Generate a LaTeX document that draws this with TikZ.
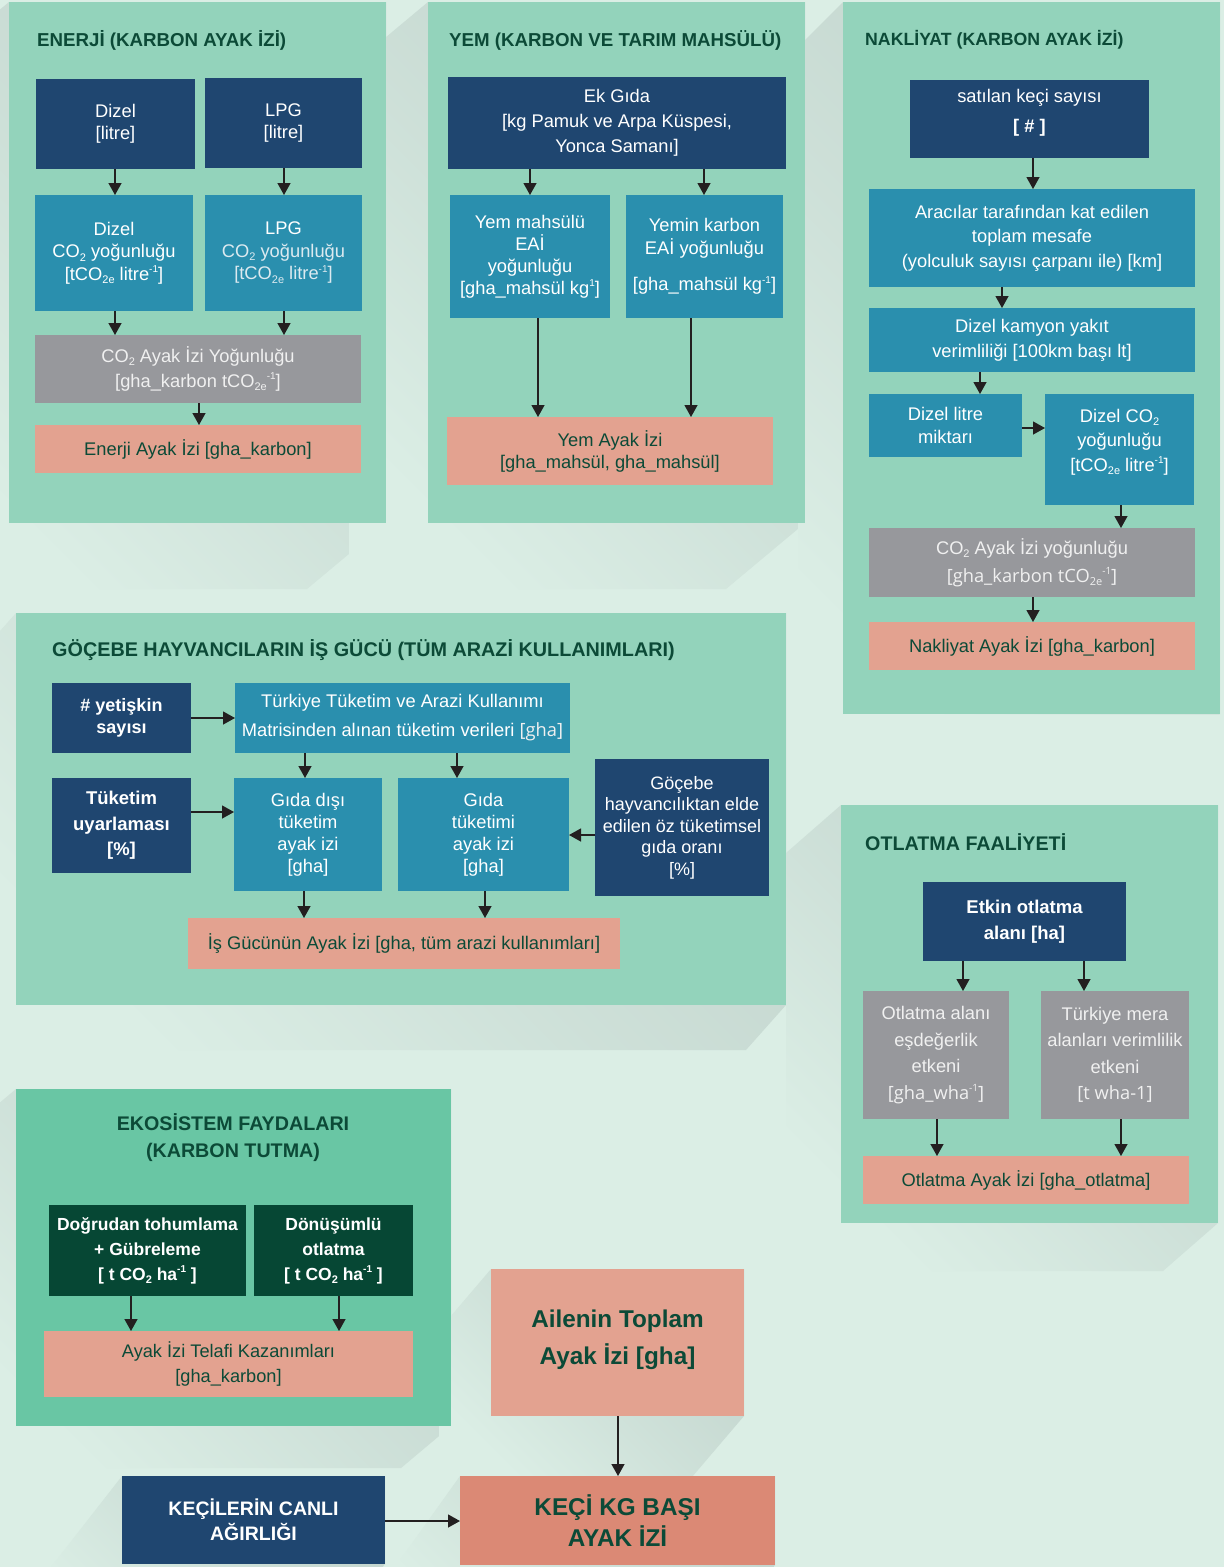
\documentclass[tikz,border=0pt]{standalone}
\usepackage{fontspec}
\setmainfont{Liberation Sans}
\newfontfamily\osans{Open Sans}
\usetikzlibrary{arrows.meta}
\definecolor{bgc}{HTML}{DBEEE5}
\definecolor{shd}{HTML}{C3D5CE}
\definecolor{panelc}{HTML}{93D3BB}
\definecolor{panelb}{HTML}{69C6A4}
\definecolor{dblue}{HTML}{1F4670}
\definecolor{tealc}{HTML}{2A8FAE}
\definecolor{greyc}{HTML}{97989C}
\definecolor{salm}{HTML}{E3A290}
\definecolor{salmd}{HTML}{DB8975}
\definecolor{dgreen}{HTML}{064734}
\definecolor{titlec}{HTML}{0C4A37}
\definecolor{arrc}{HTML}{231F20}
\definecolor{lightc}{HTML}{DCEAF0}
\definecolor{greytxt}{HTML}{F0F0F0}
\newcommand\msup[1]{\raisebox{0.8ex}{\fontsize{10}{10}\selectfont #1}}
\newcommand\msub[1]{\raisebox{-0.35ex}{\fontsize{11}{11}\selectfont #1}}
\newcommand\bx[7]{\node[#1, minimum width={#4-#2}, minimum height={#5-#3}] (#6) at ({(#2+#4)/2},{(#3+#5)/2}) {#7};}
\newcommand\vconn[3]{\draw[arr] (#1.south -| #3,0) -- (#2.north -| #3,0);}
\newcommand\hconnr[3]{\draw[arr] (#1.east |- 0,#3) -- (#2.west |- 0,#3);}
\newcommand\hconnl[3]{\draw[arr] (#1.west |- 0,#3) -- (#2.east |- 0,#3);}
\newcommand\shrect[6]{\shade[top color=shd, bottom color=bgc, middle color=shd!55!bgc, shading angle=-45]
  (#1,#2) -- (#3,#2) -- (#3,#4) -- ({#3+#5},{#4+#6}) -- ({#1+#5},{#4+#6}) -- ({#1+#5},{#2+#6}) -- cycle;}
\tikzset{
  fs/.style 2 args={font=\fontsize{#1}{#2}\selectfont},
  fsb/.style 2 args={font=\fontsize{#1}{#2}\selectfont\bfseries},
  box/.style={rectangle, draw=none, inner sep=0pt, outer sep=0pt, align=center, fs={18.3}{23}},
  dbox/.style={box, fill=dblue, text=white},
  tbox/.style={box, fill=tealc, text=white},
  gbox/.style={box, fill=greyc, text=greytxt},
  sbox/.style={box, fill=salm, text=titlec},
  gdbox/.style={box, fill=dgreen, text=white},
  panel/.style={fill=panelc, draw=none},
  ttl/.style={inner sep=0pt, text=titlec},
  arr/.style={draw=arrc, line width=1.3pt, -{Triangle[width=13pt,length=12pt]}},
}
\begin{document}
\begin{tikzpicture}[x=1pt,y=-1pt]
\useasboundingbox (0,0) rectangle (1224,1567);
\clip (0,0) rectangle (1224,1567);
\fill[bgc] (0,0) rectangle (1224,1567);
% shadows
\shrect{9}{2}{386}{523}{-79}{66}
\shrect{428}{2}{805}{523}{-79}{66}
\begin{scope}
\clip (0,0) rectangle (1224,714);
\shrect{843}{2}{1220}{714}{-45}{45}
\end{scope}
\shrect{16}{613}{786}{1005}{-40}{45}
\shrect{841}{805}{1218}{1223}{-55}{48}
\shrect{16}{1089}{451}{1426}{-50}{42}
\shrect{491}{1269}{744}{1416}{-52}{61}
\shrect{460}{1476}{775}{1565}{-60}{84}
\shrect{122}{1476}{385}{1564}{-71}{91}
% panels
\fill[panel] (9,2) rectangle (386,523);
\fill[panel] (428,2) rectangle (805,523);
\fill[panel] (843,2) rectangle (1220,714);
\fill[panel] (16,613) rectangle (786,1005);
\fill[panel] (841,805) rectangle (1218,1223);
\fill[panelb] (16,1089) rectangle (451,1426);
% titles
\node[ttl, fsb={18.7}{24}, anchor=west] (t1) at (37,40) {ENERJİ (KARBON AYAK İZİ)};
\node[ttl, fsb={18.7}{24}, anchor=west] (t2) at (449,40) {YEM (KARBON VE TARIM MAHSÜLÜ)};
\node[ttl, fsb={17.7}{24}, anchor=west] (t3) at (865,40) {NAKLİYAT (KARBON AYAK İZİ)};
\node[ttl, fsb={19.8}{24}, anchor=west] (t4) at (52,650) {GÖÇEBE HAYVANCILARIN İŞ GÜCÜ (TÜM ARAZİ KULLANIMLARI)};
\node[ttl, fsb={19.7}{24}, anchor=west] (t5) at (865,842) {OTLATMA FAALİYETİ};
\node[ttl, fsb={19.7}{27}, align=center] (t6) at (233,1138) {EKOSİSTEM FAYDALARI\\(KARBON TUTMA)};
% panel 1: energy
\bx{dbox, fs={18.3}{21.5}}{36}{79}{195}{169}{e1}{Dizel\\{[litre]}}
\bx{dbox, fs={18.3}{21.5}}{205}{78}{362}{168}{e2}{LPG\\{[litre]}}
\bx{tbox, fs={18.3}{22.5}}{35}{195}{193}{311}{e3}{Dizel\\CO\msub{2} yoğunluğu\\{[tCO\msub{2e} litre\msup{-1}]}}
\bx{tbox, fs={18.3}{22.5}}{205}{195}{362}{311}{e4}{LPG\\{\color{lightc}CO\msub{2} yoğunluğu}\\{\color{lightc}[tCO\msub{2e} litre\msup{-1}]}}
\bx{gbox, fs={18.3}{25}}{35}{335}{361}{403}{e5}{CO\msub{2} Ayak İzi Yoğunluğu\\{[gha\_karbon tCO\msub{2e}\msup{-1}]}}
\bx{sbox}{35}{425}{361}{473}{e6}{Enerji Ayak İzi [gha\_karbon]}
\vconn{e1}{e3}{115}
\vconn{e2}{e4}{284}
\vconn{e3}{e5}{115}
\vconn{e4}{e5}{284}
\vconn{e5}{e6}{199}
% panel 2: feed
\bx{dbox, fs={18.3}{25}}{448}{77}{786}{169}{y1}{Ek Gıda\\{[kg Pamuk ve Arpa Küspesi,}\\Yonca Samanı]}
\bx{tbox, fs={18.3}{22}}{450}{195}{610}{318}{y2}{Yem mahsülü\\EAİ\\yoğunluğu\\{[gha\_mahsül kg\msup{1}]}}
\bx{tbox, fs={18.3}{22.5}}{626}{195}{783}{318}{y3}{Yemin karbon\\EAİ yoğunluğu\\[14pt]{[gha\_mahsül kg\msup{-1}]}}
\bx{sbox, fs={18.3}{22}}{447}{417}{773}{485}{y4}{Yem Ayak İzi\\{[gha\_mahsül, gha\_mahsül]}}
\vconn{y1}{y2}{530}
\vconn{y1}{y3}{704}
\vconn{y2}{y4}{538}
\vconn{y3}{y4}{691}
% panel 3: transport
\bx{dbox, fs={18.3}{29.5}}{910}{80}{1149}{158}{n1}{satılan keçi sayısı\\{\bfseries [ \# ]}\\[-13.5pt]}
\bx{tbox, fs={18.3}{24.5}}{869}{189}{1195}{287}{n2}{Aracılar tarafından kat edilen\\toplam mesafe\\(yolculuk sayısı çarpanı ile) [km]}
\bx{tbox, fs={18.3}{25}}{869}{308}{1195}{372}{n3}{Dizel kamyon yakıt\\verimliliği [100km başı lt]}
\bx{tbox, fs={18.3}{23}}{869}{394}{1022}{457}{n4}{Dizel litre\\miktarı}
\bx{tbox, fs={18.3}{24.5}}{1045}{394}{1194}{505}{n5}{Dizel CO\msub{2}\\yoğunluğu\\{[tCO\msub{2e} litre\msup{-1}]}\\[-5.5pt]}
\bx{gbox, fs={18.3}{28}}{869}{528}{1195}{597}{n6}{CO\msub{2} Ayak İzi yoğunluğu\\{\osans [gha\_karbon tCO\msub{2e}\msup{-1}]}}
\bx{sbox}{869}{622}{1195}{670}{n7}{Nakliyat Ayak İzi [gha\_karbon]}
\vconn{n1}{n2}{1033}
\vconn{n2}{n3}{1002}
\vconn{n3}{n4}{980}
\hconnr{n4}{n5}{428}
\vconn{n5}{n6}{1121}
\vconn{n6}{n7}{1033}
% panel 4: labour
\bx{dbox, fsb={18}{22}}{52}{683}{191}{753}{g1}{\# yetişkin\\sayısı}
\bx{tbox, fs={18.3}{29}}{235}{683}{570}{753}{g2}{Türkiye Tüketim ve Arazi Kullanımı\\Matrisinden alınan tüketim verileri {\osans\color{greytxt}[gha]}}
\bx{dbox, fsb={18.5}{25.5}}{52}{778}{191}{873}{g3}{Tüketim\\uyarlaması\\{[\%]}}
\bx{tbox, fs={18.3}{22}}{234}{778}{382}{891}{g4}{Gıda dışı\\tüketim\\ayak izi\\{[gha]}}
\bx{tbox, fs={18.3}{22}}{398}{778}{569}{891}{g5}{Gıda\\tüketimi\\ayak izi\\{[gha]}}
\bx{dbox, fs={18}{21.5}}{595}{759}{769}{896}{g6}{Göçebe\\hayvancılıktan elde\\edilen öz tüketimsel\\gıda oranı\\{[\%]}}
\bx{sbox}{188}{918}{620}{969}{g7}{İş Gücünün Ayak İzi [gha, tüm arazi kullanımları]}
\hconnr{g1}{g2}{718}
\hconnr{g3}{g4}{812}
\hconnl{g6}{g5}{835}
\vconn{g2}{g4}{305}
\vconn{g2}{g5}{457}
\vconn{g4}{g7}{304}
\vconn{g5}{g7}{485}
% panel 5: grazing
\bx{dbox, fsb={18.5}{26}}{923}{882}{1126}{961}{o1}{Etkin otlatma\\alanı [ha]}
\bx{gbox, fs={18.3}{26.5}}{863}{991}{1009}{1119}{o2}{Otlatma alanı\\eşdeğerlik\\etkeni\\{\osans [gha\_wha\msup{-1}]}}
\bx{gbox, fs={18.3}{26.5}}{1041}{991}{1189}{1119}{o3}{Türkiye mera\\alanları verimlilik\\etkeni\\{\osans [t wha-1]}}
\bx{sbox}{863}{1156}{1189}{1204}{o4}{Otlatma Ayak İzi [gha\_otlatma]}
\vconn{o1}{o2}{963}
\vconn{o1}{o3}{1084}
\vconn{o2}{o4}{937}
\vconn{o3}{o4}{1121}
% panel 6: ecosystem
\bx{gdbox, fsb={17.5}{25}}{49}{1205}{246}{1296}{k1}{Doğrudan tohumlama\\+ Gübreleme\\{[ t CO\msub{2} ha\msup{-1} ]}}
\bx{gdbox, fsb={17.5}{25}}{254}{1205}{413}{1296}{k2}{Dönüşümlü\\otlatma\\{[ t CO\msub{2} ha\msup{-1} ]}}
\bx{sbox, fs={18.2}{25}}{44}{1331}{413}{1397}{k3}{Ayak İzi Telafi Kazanımları\\{[gha\_karbon]}}
\vconn{k1}{k3}{131}
\vconn{k2}{k3}{339}
% bottom
\bx{sbox, fsb={24.3}{37}}{491}{1269}{744}{1416}{a1}{Ailenin Toplam\\Ayak İzi [gha]\\[-27pt]}
\bx{box, fill=salmd, text=titlec, fsb={24.3}{31}}{460}{1476}{775}{1565}{a2}{KEÇİ KG BAŞI\\AYAK İZİ}
\bx{dbox, fsb={19.5}{25}}{122}{1476}{385}{1564}{a3}{KEÇİLERİN CANLI\\AĞIRLIĞI}
\vconn{a1}{a2}{618}
\hconnr{a3}{a2}{1521}
\end{tikzpicture}
\end{document}
